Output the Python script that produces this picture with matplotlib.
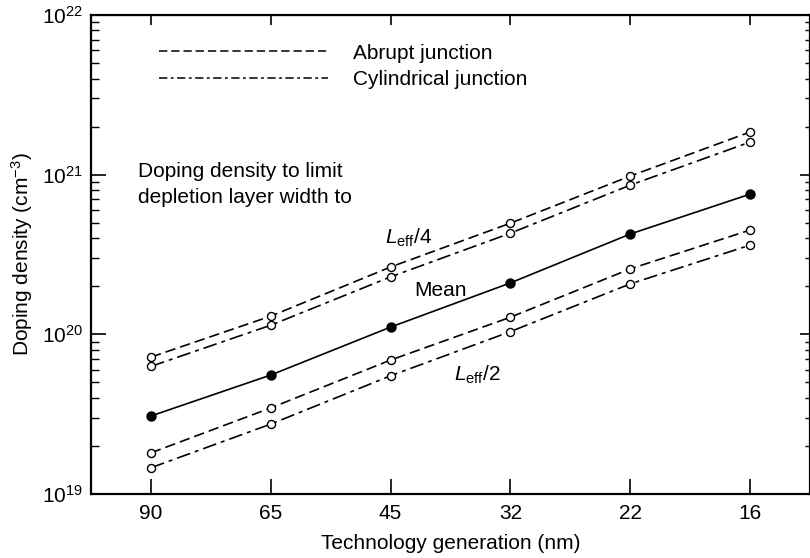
import numpy as np
import matplotlib
matplotlib.use("Agg")
import matplotlib.pyplot as plt
from matplotlib.lines import Line2D
from matplotlib.ticker import NullFormatter

plt.rcParams['font.family'] = ['Liberation Sans', 'DejaVu Sans']
plt.rcParams['mathtext.fontset'] = 'custom'
plt.rcParams['mathtext.rm'] = 'Liberation Sans'
plt.rcParams['mathtext.it'] = 'Liberation Sans:italic'
plt.rcParams['mathtext.bf'] = 'Liberation Sans:bold'
plt.rcParams['lines.scale_dashes'] = False

# technology nodes (nm)
nodes = ["90", "65", "45", "32", "22", "16"]
# doping density to limit depletion width to Leff/4
abrupt_q = [7.2e19, 1.30e20, 2.64e20, 4.97e20, 9.8e20, 1.85e21]
cyl_q = [6.3e19, 1.14e20, 2.29e20, 4.3e20, 8.6e20, 1.6e21]
# mean of the two sets
mean = [3.08e19, 5.56e19, 1.11e20, 2.10e20, 4.25e20, 7.55e20]
# to Leff/2
abrupt_h = [1.81e19, 3.46e19, 6.9e19, 1.28e20, 2.57e20, 4.5e20]
cyl_h = [1.46e19, 2.74e19, 5.5e19, 1.04e20, 2.07e20, 3.62e20]

x = np.arange(len(nodes))
dash_abrupt = (7.5, 3.6)
dash_cyl = (10, 3.6, 2.8, 3.6)
fs = 15

fig = plt.figure(figsize=(8.1, 5.58), dpi=100)
ax = fig.add_axes([91 / 810, 1 - 494 / 558, 719 / 810, 479 / 558])

open_kw = dict(marker='o', markersize=5.8, markerfacecolor='white',
               markeredgecolor='black', markeredgewidth=1.0, color='black', lw=1.2)
ax.plot(x, abrupt_q, dashes=dash_abrupt, **open_kw)
ax.plot(x, cyl_q, dashes=dash_cyl, **open_kw)
ax.plot(x, abrupt_h, dashes=dash_abrupt, **open_kw)
ax.plot(x, cyl_h, dashes=dash_cyl, **open_kw)
ax.plot(x, mean, '-', color='black', lw=1.2, marker='o', markersize=6.5,
        markerfacecolor='black', markeredgecolor='black')

ax.set_yscale('log')
ax.set_ylim(1e19, 1e22)
ax.set_xlim(-0.5, 5.5)
ax.set_xticks(x, nodes)

for s in ax.spines.values():
    s.set_linewidth(1.6)
ax.tick_params(axis='x', direction='in', length=10.5, width=1.2, pad=7, labelsize=fs)
ax.tick_params(axis='y', which='major', direction='in', length=11, width=1.2, pad=6, labelsize=fs)
ax.tick_params(axis='y', which='minor', direction='in', length=6, width=1.0)

# short ticks on the top and right edges, no labels
top = ax.secondary_xaxis('top')
top.set_xticks(x)
top.tick_params(direction='in', length=7, width=1.2, labeltop=False)
right = ax.secondary_yaxis('right')
right.tick_params(which='major', direction='in', length=7, width=1.2, labelright=False)
right.tick_params(which='minor', direction='in', length=3.5, width=1.0)
right.yaxis.set_minor_formatter(NullFormatter())

ax.set_xlabel("Technology generation (nm)", fontsize=fs, labelpad=8)
ax.set_ylabel("Doping density (cm$^{-3}$)", fontsize=fs, labelpad=5)

handles = [Line2D([], [], color='black', lw=1.1, dashes=(6, 2.8)),
           Line2D([], [], color='black', lw=1.1, dashes=(6, 2.5, 2, 2.5))]
ax.legend(handles, ["Abrupt junction", "Cylindrical junction"], frameon=False,
          loc='upper left', bbox_to_anchor=(0.095, 0.940), borderpad=0, borderaxespad=0,
          handlelength=8.1, handletextpad=1.2, labelspacing=0.36, fontsize=fs)

ax.text(-0.108, 8.67e20, "Doping density to limit\ndepletion layer width to",
        fontsize=fs, va='center', ha='left', linespacing=1.41)
ax.text(1.95, 4.0e20, r"$L_{\mathrm{eff}}$/4", fontsize=fs, va='center', ha='left')
ax.text(2.2, 1.87e20, "Mean", fontsize=fs, va='center', ha='left')
ax.text(2.53, 5.6e19, r"$L_{\mathrm{eff}}$/2", fontsize=fs, va='center', ha='left')

fig.savefig("out.png", dpi=100)
